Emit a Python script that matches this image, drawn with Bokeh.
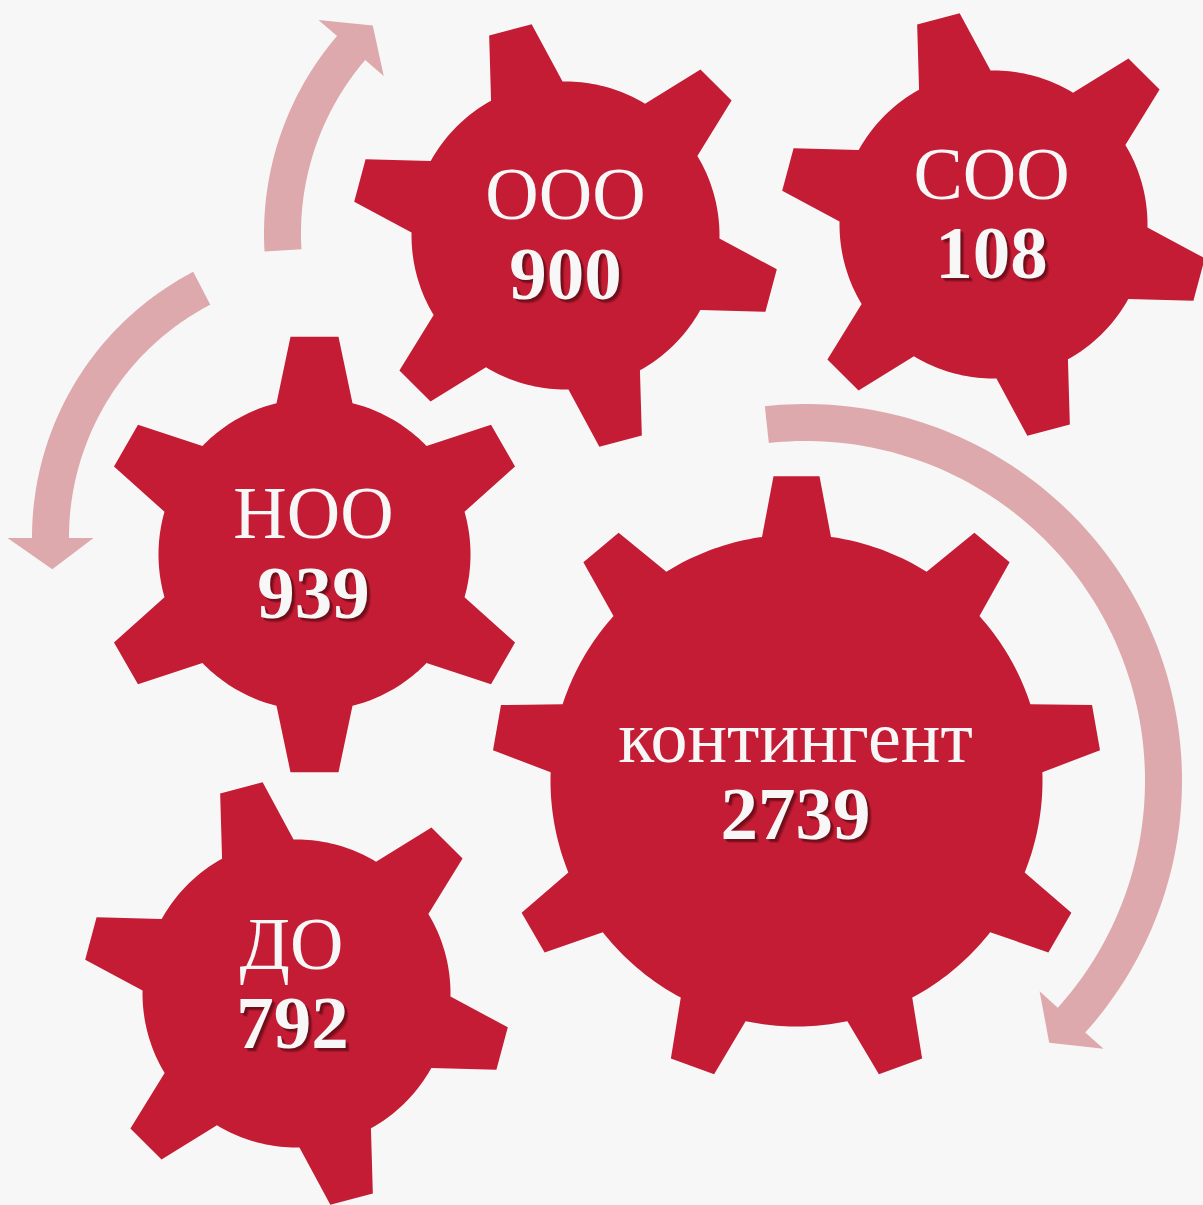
import math
import numpy as np
from bokeh.plotting import figure
from bokeh.models import Range1d
from bokeh.core.properties import value
from bokeh.embed import file_html
from bokeh.resources import INLINE

# ---------------- data ----------------
labels = ["ООО", "СОО", "НОО", "контингент", "ДО"]
counts = [900, 108, 939, 2739, 792]

# ---------------- layout (page pixels, y down) ----------------
gear_cx = [565, 993, 314, 796, 296]
gear_cy = [235, 224, 554, 780, 993]
gear_teeth = [6, 6, 6, 9, 6]
gear_r_body = [154, 154, 156, 246, 154]
gear_r_out = [214, 214, 219, 305, 214]
gear_hw_out = [22, 22, 24, 23, 22]
gear_hw_base = [37, 37, 38, 34.5, 37]
gear_phase = [105, 105, 90, 90, 105]

TEXT_SHIFT = -24
label_x = [565, 991, 313, 795, 291]
label_y = [217, 197, 536, 760, 967]
count_x = [565, 991, 313, 795, 292]
count_y = [298, 277, 617, 838, 1047]

arrow_cx = [567, 331, 805]
arrow_cy = [233, 537, 780]
arrow_r = [285, 281, 358]
arrow_start = [183.4, 117.5, 96.2]
arrow_base = [139.4, 180.1, -42.0]
arrow_tip = [133.1, 186.5, -47.1]
arrow_w = 37
arrow_head_hw = 43

BG = "#F7F7F7"
GEAR = "#C41C34"
ARROW = "#DEA9AD"
TXT = "#F7F7F7"
FONT = "Liberation Serif"


def gear_shape(cx, cy, n, rb, ro, hwo, hwb, phase):
    xs, ys = [], []
    step = 2 * math.pi / n
    db = math.asin(hwb / rb)
    ub = math.sqrt(rb * rb - hwb * hwb)
    uo = math.sqrt(ro * ro - hwo * hwo)
    for i in range(n):
        th = math.radians(phase) + i * step
        c, s = math.cos(th), math.sin(th)
        for (u, v) in [(ub, -hwb), (uo, -hwo), (uo, hwo), (ub, hwb)]:
            mx = u * c - v * s
            my = u * s + v * c
            xs.append(cx + mx)
            ys.append(cy - my)
        for a in np.linspace(th + db, th + step - db, 24)[1:-1]:
            xs.append(cx + rb * math.cos(a))
            ys.append(cy - rb * math.sin(a))
    return xs, ys


def arrow_shape(cx, cy, r, a0, a1, at, w, hw):
    angs = np.radians(np.linspace(a0, a1, 120))
    ro, ri = r + w / 2, r - w / 2
    xs = [cx + ro * math.cos(a) for a in angs]
    ys = [cy - ro * math.sin(a) for a in angs]
    b = math.radians(a1)
    t = math.radians(at)
    xs += [cx + (r + hw) * math.cos(b), cx + r * math.cos(t), cx + (r - hw) * math.cos(b)]
    ys += [cy - (r + hw) * math.sin(b), cy - r * math.sin(t), cy - (r - hw) * math.sin(b)]
    xs += [cx + ri * math.cos(a) for a in angs[::-1]]
    ys += [cy - ri * math.sin(a) for a in angs[::-1]]
    return xs, ys


W, H = 1203, 1205
p = figure(width=W, height=H, x_range=Range1d(0, W), y_range=Range1d(H, 0),
           output_backend="svg", toolbar_location=None, min_border=0,
           x_axis_type=None, y_axis_type=None)
p.grid.visible = False
p.outline_line_color = None
p.background_fill_color = BG
p.border_fill_color = BG

# arrows
axs, ays = [], []
for i in range(len(arrow_cx)):
    x, y = arrow_shape(arrow_cx[i], arrow_cy[i], arrow_r[i], arrow_start[i],
                       arrow_base[i], arrow_tip[i], arrow_w, arrow_head_hw)
    axs.append(x)
    ays.append(y)
p.patches(axs, ays, fill_color=ARROW, line_color=None)

# gears
gxs, gys = [], []
for i in range(len(labels)):
    x, y = gear_shape(gear_cx[i], gear_cy[i], gear_teeth[i], gear_r_body[i],
                      gear_r_out[i], gear_hw_out[i], gear_hw_base[i], gear_phase[i])
    gxs.append(x)
    gys.append(y)
p.patches(gxs, gys, fill_color=GEAR, line_color=None)

# labels
p.text(label_x, [y + TEXT_SHIFT for y in label_y], text=labels, text_font=value(FONT),
       text_font_size="74px", text_color=TXT, text_align="center",
       text_baseline="alphabetic")

count_txt = [str(c) for c in counts]
cy_ = [y + TEXT_SHIFT for y in count_y]
for dx, dy, al in [(4, 4, 0.18), (3, 3, 0.3), (2, 2, 0.3)]:
    p.text([x + dx for x in count_x], [y + dy for y in cy_], text=count_txt,
           text_font=value(FONT), text_font_size="75px", text_font_style="bold",
           text_color="#3a0509", text_alpha=al, text_align="center",
           text_baseline="alphabetic")
p.text(count_x, cy_, text=count_txt, text_font=value(FONT), text_font_size="75px",
       text_font_style="bold", text_color=TXT, text_align="center",
       text_baseline="alphabetic")

tmpl = """{% block preamble %}<style>html, body {margin:0 !important; padding:0 !important; background:#F7F7F7 !important; overflow:hidden;}</style>{% endblock %}"""
open("out.html", "w").write(file_html(p, INLINE, template=tmpl))
